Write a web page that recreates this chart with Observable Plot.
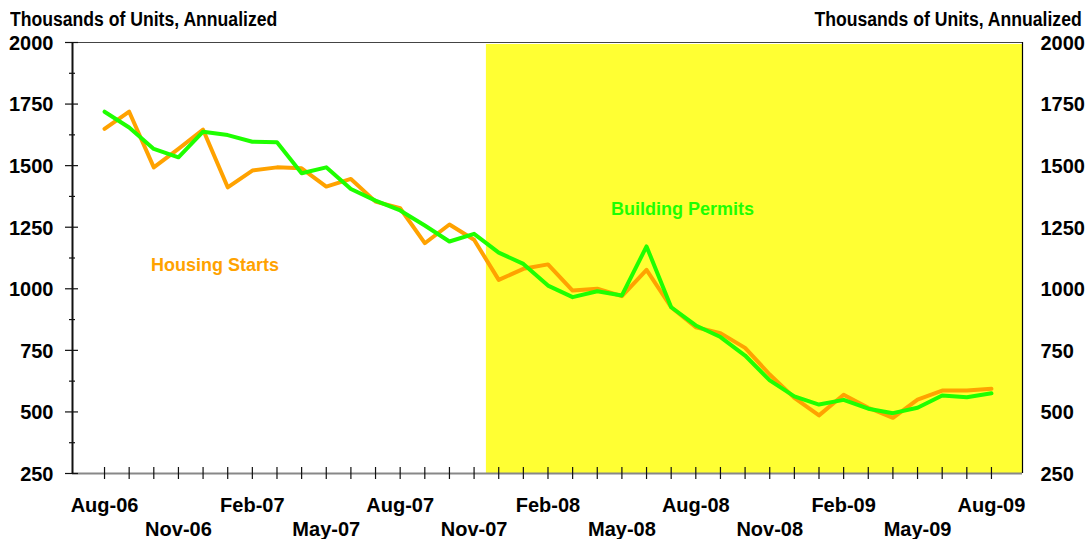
<!DOCTYPE html>
<html>
<head>
<meta charset="utf-8">
<script src="https://cdn.jsdelivr.net/npm/d3@7"></script>
<script src="https://cdn.jsdelivr.net/npm/@observablehq/plot@0.6"></script>
<style>
  html, body { margin: 0; padding: 0; background: #fff; }
  #wrap { width: 1091px; height: 539px; position: relative; overflow: hidden; font-family: "Liberation Sans", Arial, sans-serif; }
  #header { position: relative; height: 30px; }
  .unit { position: absolute; top: 9px; font-size: 20px; line-height: 20px; font-weight: bold; color: #000; white-space: nowrap; }
  #unitL { left: 10px; transform: scaleX(0.88); transform-origin: left center; }
  #unitR { right: 9px; transform: scaleX(0.88); transform-origin: right center; }
  svg { display: block; }
</style>
</head>
<body>
<div id="wrap">
  <div id="header">
    <div class="unit" id="unitL">Thousands of Units, Annualized</div>
    <div class="unit" id="unitR">Thousands of Units, Annualized</div>
  </div>
  <div id="chart"></div>
</div>
<script>
// ---- data ----
const months = [
  "Aug-06","Sep-06","Oct-06","Nov-06","Dec-06","Jan-07","Feb-07","Mar-07","Apr-07","May-07",
  "Jun-07","Jul-07","Aug-07","Sep-07","Oct-07","Nov-07","Dec-07","Jan-08","Feb-08","Mar-08",
  "Apr-08","May-08","Jun-08","Jul-08","Aug-08","Sep-08","Oct-08","Nov-08","Dec-08","Jan-09",
  "Feb-09","Mar-09","Apr-09","May-09","Jun-09","Jul-09","Aug-09"
];
const housingStarts = [
  1649,1719,1493,1568,1646,1412,1480,1493,1489,1415,
  1446,1354,1327,1185,1261,1199,1036,1081,1099,993,
  1000,970,1077,925,844,820,760,652,557,486,
  570,517,476,550,587,587,594
];
const buildingPermits = [
  1719,1655,1568,1534,1638,1624,1597,1595,1469,1493,
  1405,1358,1318,1257,1192,1223,1147,1101,1013,966,
  990,973,1172,925,851,804,729,628,563,530,
  549,513,495,517,567,560,576
];
const yTicks = [250, 500, 750, 1000, 1250, 1500, 1750, 2000];
const yMinorTicks = [375, 625, 875, 1125, 1375, 1625, 1875];
const labeledMonths = ["Aug-06","Nov-06","Feb-07","May-07","Aug-07","Nov-07","Feb-08","May-08","Aug-08","Nov-08","Feb-09","May-09","Aug-09"];
const shadeStartMonth = "Dec-07";
const seriesNames = ["Housing Starts", "Building Permits"];
const seriesColors = ["#ffa200", "#1eff00"];

// ---- build table ----
const table = months.map((m, i) => ({i, month: m, starts: housingStarts[i], permits: buildingPermits[i]}));
const idx = m => months.indexOf(m);
const xMin = -1.3, xMax = months.length - 1 + 1.26;
const shadeStart = idx(shadeStartMonth) - 0.5;
const row1 = labeledMonths.filter((m, k) => k % 2 === 0).map(idx);
const row2 = labeledMonths.filter((m, k) => k % 2 === 1).map(idx);
const annotations = [
  {name: seriesNames[0], i: 4.48, v: 1097, color: seriesColors[0]},
  {name: seriesNames[1], i: 23.46, v: 1322, color: seriesColors[1]}
];
const font = {fontSize: 20, fontWeight: "bold", fill: "#000"};

const chart = Plot.plot({
  width: 1091,
  height: 509,
  marginLeft: 72,
  marginRight: 69,
  marginTop: 12,
  marginBottom: 66,
  x: {type: "linear", domain: [xMin, xMax], axis: null},
  y: {domain: [250, 2000], axis: null},
  style: {fontFamily: "'Liberation Sans', Arial, sans-serif", background: "#fff", overflow: "visible"},
  marks: [
    // shaded recession region
    Plot.rect([0], {x1: () => shadeStart, x2: () => xMax, y1: () => 250, y2: () => 2000, insetTop: 2, fill: "#ffff33"}),
    // frame lines
    Plot.ruleY([2000], {stroke: "#444", strokeWidth: 1}),
    Plot.ruleY([250], {stroke: "#888", strokeWidth: 2}),
    Plot.ruleX([xMax], {stroke: "#000", strokeWidth: 1.2}),
    Plot.ruleX([xMin], {stroke: "#111", strokeWidth: 2}),
    // y ticks (crossing the axis)
    Plot.ruleY(yTicks, {y: d => d, x1: () => xMin, x2: () => xMin, insetLeft: -7, insetRight: -6, stroke: "#111", strokeWidth: 1.2}),
    Plot.ruleY(yMinorTicks, {y: d => d, x1: () => xMin, x2: () => xMin, insetLeft: -3, insetRight: -3, stroke: "#111", strokeWidth: 1.2}),
    // x ticks (crossing the axis)
    Plot.ruleX(table, {x: "i", y1: () => 250, y2: () => 250, insetTop: -6, insetBottom: -6, stroke: "#111", strokeWidth: 1.2}),
    // series
    Plot.line(table, {x: "i", y: "starts", stroke: seriesColors[0], strokeWidth: 4, strokeLinejoin: "round"}),
    Plot.line(table, {x: "i", y: "permits", stroke: seriesColors[1], strokeWidth: 4, strokeLinejoin: "round"}),
    // series labels
    Plot.text(annotations, {x: "i", y: "v", text: "name", fill: "color", fontSize: 18, fontWeight: "bold", textAnchor: "middle", lineAnchor: "middle"}),
    // y tick labels, left and right
    Plot.text(yTicks, {x: () => xMin, y: d => d, text: d => String(d), textAnchor: "end", lineAnchor: "middle", dx: -19, dy: 1, ...font}),
    Plot.text(yTicks, {x: () => xMax, y: d => d, text: d => String(d), textAnchor: "start", lineAnchor: "middle", dx: 18, dy: 1, ...font}),
    // x tick labels, two staggered rows
    Plot.text(row1, {x: d => d, y: () => 250, text: d => months[d], textAnchor: "middle", lineAnchor: "middle", dy: 32.5, ...font}),
    Plot.text(row2, {x: d => d, y: () => 250, text: d => months[d], textAnchor: "middle", lineAnchor: "middle", dy: 55.7, ...font})
  ]
});
document.getElementById("chart").appendChild(chart);
</script>
</body>
</html>
